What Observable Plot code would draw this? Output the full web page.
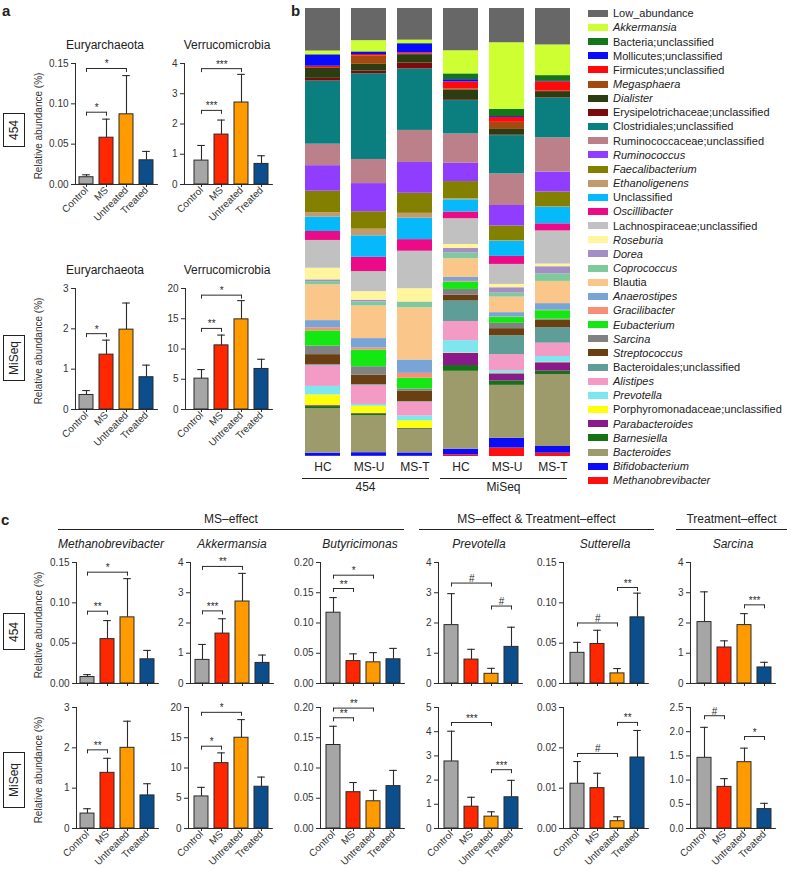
<!DOCTYPE html>
<html><head><meta charset="utf-8">
<script src="https://cdn.jsdelivr.net/npm/d3@7"></script>
<script src="https://cdn.jsdelivr.net/npm/@observablehq/plot@0.6"></script>
<style>
body{margin:0;background:#fff;}
#root{position:relative;width:788px;height:871px;overflow:hidden;font-family:"Liberation Sans",Arial,Helvetica,sans-serif;color:#222;}
.plabel{position:absolute;font-weight:bold;font-size:15px;line-height:15px;}
.title{position:absolute;width:200px;text-align:center;font-size:12px;line-height:16px;height:16px;white-space:nowrap;}
.box{position:absolute;border:1.3px solid #222;box-sizing:border-box;display:flex;align-items:center;justify-content:center;}
.box span{transform:rotate(-90deg);font-size:12px;white-space:nowrap;}
.ylab{position:absolute;font-size:10px;color:#333;white-space:nowrap;transform:translate(-50%,-50%) rotate(-90deg);}
.hline{position:absolute;border-top:1px solid #222;height:0;}
.legrow{position:absolute;left:0;height:14.15px;line-height:14.15px;font-size:11px;white-space:nowrap;}
.legrow i.sw{display:inline-block;width:20px;height:7px;margin-right:5px;vertical-align:middle;position:relative;top:-1px;}
svg{position:absolute;}
</style></head>
<body><div id="root"></div>
<script>
// ---------------- DATA ----------------
const groups = ["Control", "MS", "Untreated", "Treated"];

// panel a (phylum level)
const euryarchaeota454 = [0.009, 0.058, 0.087, 0.030];
const euryarchaeota454Sem = [0.003, 0.023, 0.048, 0.011];
const verrucomicrobia454 = [0.79, 1.65, 2.71, 0.68];
const verrucomicrobia454Sem = [0.50, 0.48, 0.93, 0.27];
const euryarchaeotaMiSeq = [0.36, 1.36, 1.98, 0.80];
const euryarchaeotaMiSeqSem = [0.11, 0.36, 0.66, 0.30];
const verrucomicrobiaMiSeq = [5.1, 10.6, 14.9, 6.7];
const verrucomicrobiaMiSeqSem = [1.5, 1.7, 3.1, 1.6];

// panel c (genus level)
const methano454 = [0.008, 0.055, 0.082, 0.030];
const methano454Sem = [0.003, 0.023, 0.048, 0.011];
const akk454 = [0.78, 1.65, 2.71, 0.68];
const akk454Sem = [0.51, 0.49, 0.93, 0.26];
const buty454 = [0.117, 0.037, 0.035, 0.040];
const buty454Sem = [0.025, 0.012, 0.016, 0.018];
const prev454 = [1.93, 0.79, 0.32, 1.21];
const prev454Sem = [1.04, 0.34, 0.18, 0.65];
const sutt454 = [0.038, 0.049, 0.0125, 0.082];
const sutt454Sem = [0.013, 0.017, 0.006, 0.030];
const sarc454 = [2.03, 1.19, 1.93, 0.53];
const sarc454Sem = [1.0, 0.22, 0.38, 0.17];
const methanoMiSeq = [0.37, 1.38, 2.0, 0.82];
const methanoMiSeqSem = [0.12, 0.36, 0.66, 0.29];
const akkMiSeq = [5.3, 10.8, 15.0, 6.9];
const akkMiSeqSem = [1.5, 1.7, 3.0, 1.6];
const butyMiSeq = [0.138, 0.060, 0.045, 0.070];
const butyMiSeqSem = [0.031, 0.016, 0.018, 0.026];
const prevMiSeq = [2.77, 0.90, 0.49, 1.29];
const prevMiSeqSem = [1.25, 0.39, 0.20, 0.70];
const suttMiSeq = [0.0111, 0.0100, 0.0018, 0.0176];
const suttMiSeqSem = [0.0055, 0.0037, 0.0011, 0.0067];
const sarcMiSeq = [1.46, 0.86, 1.37, 0.40];
const sarcMiSeqSem = [0.63, 0.17, 0.29, 0.12];

// significance: [from group, to group, bracket level (data units), label]
const sigEury454 = [[0, 1, 0.0896, "*"], [0, 2, 0.1438, "*"]];
const sigVerr454 = [[0, 1, 2.45, "***"], [0, 2, 3.83, "***"]];
const sigEuryMiSeq = [[0, 1, 1.88, "*"]];
const sigVerrMiSeq = [[0, 1, 13.4, "**"], [0, 2, 18.9, "*"]];
const sigMethano454 = [[0, 1, 0.0896, "**"], [0, 2, 0.138, "*"]];
const sigAkk454 = [[0, 1, 2.4, "***"], [0, 2, 3.87, "**"]];
const sigButy454 = [[0, 1, 0.157, "**"], [0, 2, 0.179, "*"]];
const sigPrev454 = [[0, 2, 3.32, "#"], [2, 3, 2.56, "#"]];
const sigSutt454 = [[0, 2, 0.075, "#"], [2, 3, 0.119, "**"]];
const sigSarc454 = [[2, 3, 2.6, "***"]];
const sigMethanoMiSeq = [[0, 1, 1.95, "**"]];
const sigAkkMiSeq = [[0, 1, 13.6, "*"], [0, 2, 19.2, "*"]];
const sigButyMiSeq = [[0, 1, 0.183, "**"], [0, 2, 0.199, "**"]];
const sigPrevMiSeq = [[0, 2, 4.38, "***"], [2, 3, 2.43, "***"]];
const sigSuttMiSeq = [[0, 2, 0.0186, "#"], [2, 3, 0.0263, "**"]];
const sigSarcMiSeq = [[0, 1, 2.33, "#"], [2, 3, 1.9, "*"]];

// tick values
const ticks015 = [0, 0.05, 0.10, 0.15];
const ticks020 = [0, 0.05, 0.10, 0.15, 0.20];
const ticks003 = [0, 0.01, 0.02, 0.03];
const ticks3 = [0, 1, 2, 3];
const ticks4 = [0, 1, 2, 3, 4];
const ticks5 = [0, 1, 2, 3, 4, 5];
const ticks20 = [0, 5, 10, 15, 20];
const ticks25 = [0, 0.5, 1.0, 1.5, 2.0, 2.5];

// panel b: taxa (legend order, top of stack first)
const taxa = ["Low_abundance", "Akkermansia", "Bacteria;unclassified", "Mollicutes;unclassified",
  "Firmicutes;unclassified", "Megasphaera", "Dialister", "Erysipelotrichaceae;unclassified",
  "Clostridiales;unclassified", "Ruminococcaceae;unclassified", "Ruminococcus", "Faecalibacterium",
  "Ethanoligenens", "Unclassified", "Oscillibacter", "Lachnospiraceae;unclassified", "Roseburia",
  "Dorea", "Coprococcus", "Blautia", "Anaerostipes", "Gracilibacter", "Eubacterium", "Sarcina",
  "Streptococcus", "Bacteroidales;unclassified", "Alistipes", "Prevotella",
  "Porphyromonadaceae;unclassified", "Parabacteroides", "Barnesiella", "Bacteroides",
  "Bifidobacterium", "Methanobrevibacter"];
const taxaItalic = [false, true, false, false, false, true, true, false, false, false, true, true,
  true, false, true, false, true, true, true, false, true, true, true, true, true, false, true, true,
  false, true, true, true, true, true];
const taxaColors = ["#676767", "#cdff33", "#12771a", "#0a0aff", "#ff0a0a", "#a44a10", "#2c3d12",
  "#7c0c0c", "#0b7f7f", "#bb8089", "#903dff", "#838000", "#c39a6d", "#06b9fb", "#ec0a87", "#c1c1c1",
  "#fff59c", "#a48ec6", "#7fc99c", "#fbc689", "#78a5d6", "#f98e78", "#13e813", "#828282", "#6a4012",
  "#5f9d99", "#f39bc5", "#7ee6ef", "#ffff0a", "#8a1a8c", "#167216", "#9d9a6b", "#0c0cf8", "#ff1010"];

const sampleKeys = ["454 HC", "454 MS-U", "454 MS-T", "MiSeq HC", "MiSeq MS-U", "MiSeq MS-T"];
const sampleLabels = ["HC", "MS-U", "MS-T", "HC", "MS-U", "MS-T"];
const platforms = ["454", "MiSeq"];

// relative abundance (%) per sample, in taxa order
const hc454 = [9.5, 0.8, 0.1, 2.5, 0.3, 0.2, 2.2, 0.6, 14.1, 4.8, 5.7, 4.8, 1.0, 3.2, 2.0, 6.2, 2.6, 0.4, 0.7, 8.0, 1.6, 0.7, 3.4, 1.9, 2.2, 0.2, 4.7, 1.9, 2.4, 0.2, 0.5, 9.9, 0.7, 0.05];
const msu454 = [7.2, 2.5, 0.15, 0.45, 0.3, 1.9, 1.5, 0.6, 19.2, 5.4, 6.3, 3.9, 1.5, 4.8, 3.2, 4.5, 1.9, 0.4, 0.9, 7.3, 2.1, 0.5, 3.7, 1.9, 2.1, 0.15, 4.3, 0.4, 1.6, 0.1, 0.4, 8.3, 0.8, 0.05];
const mst454 = [7.1, 0.75, 0.1, 2.0, 0.3, 0.1, 1.9, 1.3, 13.8, 7.2, 6.9, 4.5, 1.1, 4.8, 2.6, 8.4, 3.0, 0.1, 1.2, 11.7, 3.0, 1.1, 2.4, 0.45, 2.4, 0.1, 3.1, 1.1, 1.7, 0.1, 0.2, 5.2, 0.75, 0.05];
const hcMiSeq = [9.5, 5.2, 1.3, 0.5, 1.6, 0.2, 2.2, 0.2, 7.5, 6.6, 4.1, 3.9, 0.2, 2.75, 1.5, 5.8, 0.9, 1.0, 1.3, 4.2, 0.9, 0.2, 1.6, 1.3, 1.3, 4.6, 4.3, 2.75, 0.1, 2.75, 1.3, 17.5, 1.3, 0.35];
const msuMiSeq = [7.7, 15.0, 1.6, 0.2, 1.1, 1.6, 1.3, 0.1, 8.6, 7.1, 4.6, 3.35, 0.1, 3.4, 1.8, 4.5, 0.75, 1.2, 0.9, 3.5, 1.0, 0.1, 1.3, 1.2, 1.6, 4.25, 3.6, 0.6, 0.1, 1.6, 1.0, 11.9, 2.2, 1.9];
const mstMiSeq = [8.2, 6.9, 1.3, 0.1, 2.1, 0.1, 1.4, 0.1, 8.9, 7.7, 4.5, 3.35, 0.1, 3.7, 1.6, 7.45, 0.6, 1.6, 1.7, 5.0, 1.5, 0.1, 1.9, 0.2, 1.7, 3.5, 3.0, 1.3, 0.1, 1.9, 0.75, 16.2, 1.5, 0.75];
const sampleValues = [hc454, msu454, mst454, hcMiSeq, msuMiSeq, mstMiSeq];

// ---------------- STYLE / LAYOUT ----------------
const INK = "#2a2a2a";
const FONT = '"Liberation Sans", Arial, Helvetica, sans-serif';
const groupColors = ["#a6a6a6", "#fe2700", "#ff9a00", "#0c4e8c"];
const STEP = 20.3, BW = 14, PH = 121;
const root = document.getElementById("root");

function div(cls, css, html) {
  const d = document.createElement("div");
  if (cls) d.className = cls;
  Object.assign(d.style, css);
  if (html != null) d.innerHTML = html;
  root.appendChild(d);
  return d;
}

function barChart(cfg) {
  const ML = 34, MR = 3, MT = 14, MB = 50;
  const inner = cfg.gap + 3 * STEP + BW + 4;
  const width = ML + inner + MR, height = MT + PH + MB;
  const data = groups.map((g, i) => ({g, v: cfg.values[i], e: cfg.errors[i]}));
  const sig = cfg.sigs.map(s => ({a: groups[s[0]], b: groups[s[1]], level: s[2], label: s[3], span: s[1] - s[0]}));
  const tickLen = cfg.ymax * 4 / PH;
  const marks = [
    Plot.ruleX(data, {x: "g", y1: "v", y2: d => d.v + d.e, stroke: INK, strokeWidth: 1.1}),
    Plot.tickY(data, {x: "g", y: d => d.v + d.e, stroke: INK, strokeWidth: 1.1, insetLeft: 3.2, insetRight: 3.2}),
    Plot.barY(data, {x: "g", y: "v", fill: "g", stroke: INK, strokeWidth: 1}),
    Plot.link(sig, {x1: "a", x2: "b", y1: "level", y2: "level", stroke: INK, strokeWidth: 1}),
    Plot.ruleX(sig, {x: "a", y1: "level", y2: d => d.level - tickLen, stroke: INK}),
    Plot.ruleX(sig, {x: "b", y1: "level", y2: d => d.level - tickLen, stroke: INK}),
    ...sig.map(s => Plot.text([s], {x: "a", y: "level", text: "label", dx: s.span * STEP / 2, dy: -1, lineAnchor: "bottom", fontSize: 10, fill: INK})),
    Plot.frame({anchor: "left", stroke: INK}),
    Plot.frame({anchor: "bottom", stroke: INK}),
    Plot.axisY({ticks: cfg.ticks, tickFormat: cfg.fmt, tickSize: 4, tickPadding: 3, label: null, stroke: INK, fontSize: 10}),
    Plot.axisX({tickSize: 3, tickPadding: 1, tickRotate: -45, label: null, stroke: INK, fontSize: 10,
      tickFormat: cfg.xlabels ? (d => d) : (() => "")})
  ];
  const svg = Plot.plot({
    width, height, marginLeft: ML, marginRight: MR, marginTop: MT, marginBottom: MB,
    x: {domain: groups, range: [ML + cfg.gap, ML + cfg.gap + 3 * STEP + BW], paddingInner: 1 - BW / STEP, paddingOuter: 0},
    y: {domain: [0, cfg.ymax]},
    color: {domain: groups, range: groupColors},
    style: {fontFamily: FONT, fontSize: "10px", color: "#333", background: "transparent", overflow: "visible"},
    marks
  });
  svg.style.position = "absolute";
  svg.style.left = (cfg.axisX - ML) + "px";
  svg.style.top = (cfg.top - MT) + "px";
  svg.style.maxWidth = "none";
  root.appendChild(svg);
  if (cfg.title) {
    div("title", {left: (cfg.titleX - 100) + "px", top: (cfg.top - 26) + "px", fontStyle: cfg.italic ? "italic" : "normal"}, cfg.title);
  }
  if (cfg.ylab) {
    div("ylab", {left: "38px", top: (cfg.top + PH / 2 + 2) + "px"}, "Relative abundance (%)");
  }
}

const f2 = d3.format(".2f"), f1 = d3.format(".1f"), f0 = d3.format("d");

const charts = [
  // panel a
  {values: euryarchaeota454, errors: euryarchaeota454Sem, sigs: sigEury454, ymax: 0.15, ticks: ticks015, fmt: f2, axisX: 75, gap: 3, top: 63, title: "Euryarchaeota", titleX: 105, xlabels: true, ylab: true},
  {values: verrucomicrobia454, errors: verrucomicrobia454Sem, sigs: sigVerr454, ymax: 4, ticks: ticks4, fmt: f0, axisX: 184, gap: 9, top: 63, title: "Verrucomicrobia", titleX: 227, xlabels: true},
  {values: euryarchaeotaMiSeq, errors: euryarchaeotaMiSeqSem, sigs: sigEuryMiSeq, ymax: 3, ticks: ticks3, fmt: f0, axisX: 75, gap: 3, top: 288, title: "Euryarchaeota", titleX: 105, xlabels: true, ylab: true},
  {values: verrucomicrobiaMiSeq, errors: verrucomicrobiaMiSeqSem, sigs: sigVerrMiSeq, ymax: 20, ticks: ticks20, fmt: f0, axisX: 185, gap: 8, top: 288, title: "Verrucomicrobia", titleX: 227, xlabels: true},
  // panel c, 454 row
  {values: methano454, errors: methano454Sem, sigs: sigMethano454, ymax: 0.15, ticks: ticks015, fmt: f2, axisX: 76, gap: 3, top: 562, title: "Methanobrevibacter", titleX: 111, italic: true, ylab: true},
  {values: akk454, errors: akk454Sem, sigs: sigAkk454, ymax: 4, ticks: ticks4, fmt: f0, axisX: 190, gap: 4, top: 562, title: "Akkermansia", titleX: 232, italic: true},
  {values: buty454, errors: buty454Sem, sigs: sigButy454, ymax: 0.20, ticks: ticks020, fmt: f2, axisX: 320, gap: 5, top: 562, title: "Butyricimonas", titleX: 360, italic: true},
  {values: prev454, errors: prev454Sem, sigs: sigPrev454, ymax: 4, ticks: ticks4, fmt: f0, axisX: 438, gap: 5, top: 562, title: "Prevotella", titleX: 479, italic: true},
  {values: sutt454, errors: sutt454Sem, sigs: sigSutt454, ymax: 0.15, ticks: ticks015, fmt: f2, axisX: 563, gap: 6, top: 562, title: "Sutterella", titleX: 605, italic: true},
  {values: sarc454, errors: sarc454Sem, sigs: sigSarc454, ymax: 4, ticks: ticks4, fmt: f0, axisX: 690, gap: 6, top: 562, title: "Sarcina", titleX: 733, italic: true},
  // panel c, MiSeq row
  {values: methanoMiSeq, errors: methanoMiSeqSem, sigs: sigMethanoMiSeq, ymax: 3, ticks: ticks3, fmt: f0, axisX: 76, gap: 3, top: 707, xlabels: true, ylab: true},
  {values: akkMiSeq, errors: akkMiSeqSem, sigs: sigAkkMiSeq, ymax: 20, ticks: ticks20, fmt: f0, axisX: 188, gap: 5, top: 707, xlabels: true},
  {values: butyMiSeq, errors: butyMiSeqSem, sigs: sigButyMiSeq, ymax: 0.20, ticks: ticks020, fmt: f2, axisX: 320, gap: 5, top: 707, xlabels: true},
  {values: prevMiSeq, errors: prevMiSeqSem, sigs: sigPrevMiSeq, ymax: 5, ticks: ticks5, fmt: f0, axisX: 438, gap: 5, top: 707, xlabels: true},
  {values: suttMiSeq, errors: suttMiSeqSem, sigs: sigSuttMiSeq, ymax: 0.03, ticks: ticks003, fmt: f2, axisX: 563, gap: 6, top: 707, xlabels: true},
  {values: sarcMiSeq, errors: sarcMiSeqSem, sigs: sigSarcMiSeq, ymax: 2.5, ticks: ticks25, fmt: f1, axisX: 690, gap: 6, top: 707, xlabels: true}
];
charts.forEach(barChart);

// panel letters
div("plabel", {left: "2px", top: "3px"}, "a");
div("plabel", {left: "291px", top: "3px"}, "b");
div("plabel", {left: "1px", top: "512px"}, "c");

// platform boxes
div("box", {left: "3px", top: "113px", width: "22px", height: "34px"}, "<span>454</span>");
div("box", {left: "3px", top: "335px", width: "22px", height: "46px"}, "<span>MiSeq</span>");
div("box", {left: "3px", top: "613px", width: "22px", height: "37px"}, "<span>454</span>");
div("box", {left: "3px", top: "752px", width: "22px", height: "56px"}, "<span>MiSeq</span>");

// panel c headers
const headers = [["MS–effect", 58, 404], ["MS–effect &amp; Treatment–effect", 419, 654], ["Treatment–effect", 676, 787]];
headers.forEach(([t, x1, x2]) => {
  div("hline", {left: x1 + "px", top: "529px", width: (x2 - x1) + "px"});
  div("title", {left: ((x1 + x2) / 2 - 100) + "px", top: "511px"}, t);
});

// ---------------- PANEL b ----------------
const stackRows = [];
sampleKeys.forEach((s, si) => {
  for (let t = taxa.length - 1; t >= 0; t--) stackRows.push({sample: s, taxon: taxa[t], value: sampleValues[si][t]});
});
const bPlot = Plot.plot({
  width: 280, height: 448 + 26, marginLeft: 0, marginRight: 0, marginTop: 0, marginBottom: 26,
  x: {domain: sampleKeys, paddingInner: 0.25, paddingOuter: 0.125},
  y: {domain: [0, 1], axis: null},
  color: {domain: taxa, range: taxaColors},
  style: {fontFamily: FONT, fontSize: "12px", color: "#222", background: "transparent", overflow: "visible"},
  marks: [
    Plot.barY(stackRows, Plot.stackY({offset: "normalize"}, {x: "sample", y: "value", fill: "taxon"})),
    Plot.axisX({tickSize: 0, tickPadding: 6, label: null, fontSize: 12, tickFormat: d => sampleLabels[sampleKeys.indexOf(d)]})
  ]
});
bPlot.style.position = "absolute";
bPlot.style.left = "297px";
bPlot.style.top = "8px";
bPlot.style.maxWidth = "none";
root.appendChild(bPlot);
const bx = bPlot.scale("x");
platforms.forEach((p, pi) => {
  const first = sampleKeys[pi * 3], last = sampleKeys[pi * 3 + 2];
  const x1 = 297 + bx.apply(first) - 3, x2 = 297 + bx.apply(last) + bx.bandwidth - 3;
  div("hline", {left: x1 + "px", top: "478px", width: (x2 - x1) + "px"});
  div("title", {left: ((x1 + x2) / 2 - 100) + "px", top: "479px"}, p);
});

// legend
const leg = div(null, {position: "absolute", left: "588px", top: "6.3px", width: "200px"});
taxa.forEach((t, i) => {
  const r = document.createElement("div");
  r.className = "legrow";
  r.style.top = (i * 14.15) + "px";
  r.innerHTML = `<i class="sw" style="background:${taxaColors[i]}"></i><span style="font-style:${taxaItalic[i] ? "italic" : "normal"}">${t}</span>`;
  leg.appendChild(r);
});
</script>
</body></html>
